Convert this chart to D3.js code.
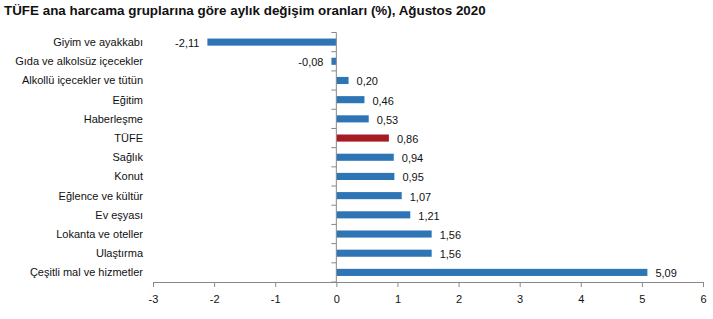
<!DOCTYPE html>
<html>
<head>
<meta charset="utf-8">
<script src="https://cdn.jsdelivr.net/npm/d3@7"></script>
<style>
  body { margin: 0; background: #fff; }
  text { font-family: "Liberation Sans", Arial, sans-serif; fill: #111; }
</style>
</head>
<body>
<svg id="chart" width="713" height="319"></svg>
<script>
const categories = [
  "Giyim ve ayakkabı",
  "Gıda ve alkolsüz içecekler",
  "Alkollü içecekler ve tütün",
  "Eğitim",
  "Haberleşme",
  "TÜFE",
  "Sağlık",
  "Konut",
  "Eğlence ve kültür",
  "Ev eşyası",
  "Lokanta ve oteller",
  "Ulaştırma",
  "Çeşitli mal ve hizmetler"
];
const values = [-2.11, -0.08, 0.20, 0.46, 0.53, 0.86, 0.94, 0.95, 1.07, 1.21, 1.56, 1.56, 5.09];
const xTicks = [-3, -2, -1, 0, 1, 2, 3, 4, 5, 6];
const title = "TÜFE ana harcama gruplarına göre aylık değişim oranları (%), Ağustos 2020";

const svg = d3.select("svg#chart");

svg.append("text")
  .attr("x", 4)
  .attr("y", 15)
  .attr("font-size", 13.4)
  .attr("font-weight", "bold")
  .text(title);

const x = d3.scaleLinear().domain([-3, 6]).range([153, 703]);
const y = d3.scaleBand().domain(categories).range([32.5, 282]).paddingInner(0.63).paddingOuter(0.315);

const fmt = (v) => d3.format(".2f")(v).replace(".", ",").replace("−", "-");

// bars
svg.append("g")
  .selectAll("rect")
  .data(values)
  .join("rect")
  .attr("x", (d) => x(Math.min(0, d)))
  .attr("y", (d, i) => y(categories[i]))
  .attr("width", (d) => Math.abs(x(d) - x(0)))
  .attr("height", y.bandwidth())
  .attr("fill", (d, i) => categories[i] === "TÜFE" ? "#a51d22" : "#2e75b6");

// value labels
svg.append("g")
  .selectAll("text")
  .data(values)
  .join("text")
  .attr("x", (d) => d < 0 ? x(d) - 8 : x(d) + 8)
  .attr("y", (d, i) => y(categories[i]) + y.bandwidth() / 2 + 5)
  .attr("text-anchor", (d) => d < 0 ? "end" : "start")
  .attr("font-size", 11)
  .text((d) => fmt(d));

// x axis
const xAxis = svg.append("g")
  .attr("transform", "translate(0,282)")
  .call(d3.axisBottom(x).tickValues(xTicks).tickSize(5).tickFormat((d) => String(d)));
xAxis.select(".domain").attr("stroke", "#888");
xAxis.selectAll(".tick line").attr("stroke", "#888");
xAxis.selectAll(".tick text").attr("font-size", 11).attr("dy", "1.2em").attr("fill", "#111");

// y axis at zero, tick marks at band boundaries
const yAxisG = svg.append("g").attr("transform", `translate(${x(0)},0)`);
yAxisG.append("line")
  .attr("y1", 32.5).attr("y2", 282)
  .attr("stroke", "#888");
const bounds = d3.range(categories.length + 1).map((i) => 32.5 + i * y.step());
yAxisG.selectAll("line.tk")
  .data(bounds)
  .join("line")
  .attr("class", "tk")
  .attr("x1", -5).attr("x2", 0)
  .attr("y1", (d) => d).attr("y2", (d) => d)
  .attr("stroke", "#888");

// category labels
svg.append("g")
  .selectAll("text")
  .data(categories)
  .join("text")
  .attr("x", 143)
  .attr("y", (d) => y(d) + y.bandwidth() / 2 + 4)
  .attr("text-anchor", "end")
  .attr("font-size", 11)
  .text((d) => d);
</script>
</body>
</html>
